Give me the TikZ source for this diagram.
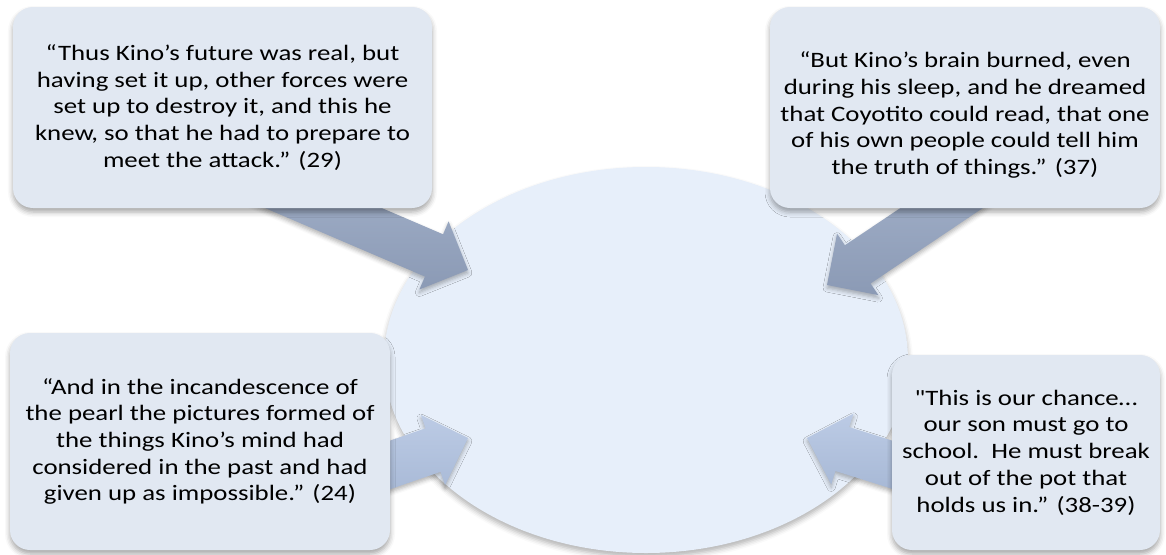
\documentclass[tikz,border=0pt]{standalone}
\usepackage{fontspec}
\setmainfont{Carlito}[FakeStretch=1.22, Ligatures=TeXOff]
\usepackage{tikz}
\usetikzlibrary{calc,shapes.geometric,shadows.blur}
\definecolor{boxfill}{HTML}{E1E8F2}
\definecolor{corefill}{HTML}{E7EFFA}
\definecolor{hitop}{HTML}{A9B7CF}
\definecolor{hibot}{HTML}{8B9AB5}
\definecolor{lotop}{HTML}{BCCBE5}
\definecolor{lobot}{HTML}{A2B4D2}
\tikzset{quote/.style={rectangle, rounded corners=20pt, fill=boxfill, inner sep=0pt, align=center,
    font=\fontsize{22}{26.7}\selectfont,
    blur shadow={shadow xshift=0pt, shadow yshift=-4pt, shadow blur radius=5pt, shadow opacity=35}}}
\tikzset{core/.style={ellipse, fill=corefill, inner sep=0pt, minimum width=524pt, minimum height=386pt,
    blur shadow={shadow xshift=0pt, shadow yshift=-4pt, shadow blur radius=5pt, shadow opacity=30}}}
\tikzset{hiarrow/.style={top color=hitop, bottom color=hibot,
    blur shadow={shadow xshift=0pt, shadow yshift=-3pt, shadow blur radius=4pt, shadow opacity=30}}}
\tikzset{loarrow/.style={top color=lotop, bottom color=lobot,
    blur shadow={shadow xshift=0pt, shadow yshift=-3pt, shadow blur radius=4pt, shadow opacity=30}}}
\newcommand{\blockarrow}[3]{%
  \coordinate (#2base) at ($(#3)!37pt!(#2)$);
  \shade[#1] ($(#2)!23pt!90:(#3)$) -- ($(#2base)!23pt!90:(#3)$) -- ($(#2base)!37pt!90:(#3)$) -- (#3)
    -- ($(#2base)!37pt!-90:(#3)$) -- ($(#2base)!23pt!-90:(#3)$) -- ($(#2)!23pt!-90:(#3)$) -- cycle;}

\begin{document}
\begin{tikzpicture}[x=1pt, y=-1pt]
\useasboundingbox (0,0) rectangle (1166,554);
\node[core] (core) at (646,360) {};
\coordinate (tailA) at (188,150);
\coordinate (tipA) at (468,270);
\coordinate (tailB) at (1028,150);
\coordinate (tipB) at (827,285);
\coordinate (tailC) at (300,496);
\coordinate (tipC) at (468,438);
\coordinate (tailD) at (960,486);
\coordinate (tipD) at (807,438);
\blockarrow{hiarrow}{tailA}{tipA}
\blockarrow{hiarrow}{tailB}{tipB}
\blockarrow{loarrow}{tailC}{tipC}
\blockarrow{loarrow}{tailD}{tipD}
\node[quote, minimum width=419pt, minimum height=201pt] (future) at (222.5,107.5)
  {“Thus Kino’s future was real, but\\ having set it up, other forces were\\ set up to destroy it, and this he\\ knew, so that he had to prepare to\\ meet the attack.” (29)};
\node[quote, minimum width=390pt, minimum height=201pt] (dream) at (965,107.5)
  {\rule{0pt}{31pt}“But Kino’s brain burned, even\\ during his sleep, and he dreamed\\ that Coyotito could read, that one\\ of his own people could tell him\\ the truth of things.” (37)};
\node[quote, minimum width=380pt, minimum height=217pt] (pearl) at (200,441.5)
  {“And in the incandescence of\\ the pearl the pictures formed of\\ the things Kino’s mind had\\ considered in the past and had\\ given up as impossible.” (24)};
\node[quote, minimum width=268pt, minimum height=195pt] (chance) at (1026,452.5)
  {"This is our chance…\\ our son must go to\\ school.\ \ He must break\\ out of the pot that\\ holds us in.” (38-39)};
\end{tikzpicture}
\end{document}
